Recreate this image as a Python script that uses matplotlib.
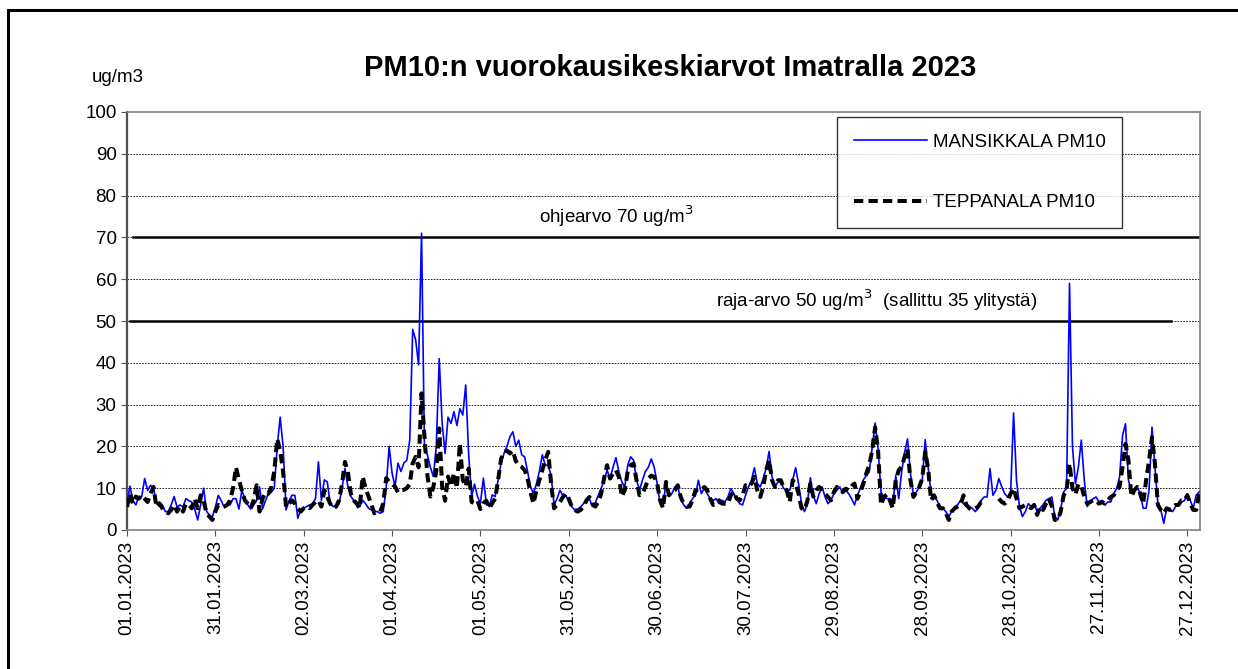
import numpy as np
import pandas as pd
import matplotlib
matplotlib.use('Agg')
import matplotlib.pyplot as plt
from matplotlib.patches import Rectangle

plt.rcParams['font.family'] = ['Liberation Sans', 'DejaVu Sans']

# daily means 2023, ug/m3
days = pd.date_range('2023-01-01', periods=365, freq='D')

mansikkala = [
    6.3, 10.5, 7, 6, 8, 8, 12.3, 9.5, 10.7, 10,
    6.3, 6.7, 6, 4.4, 4.4, 6, 8, 5.5, 6, 5.5,
    7.5, 7, 6.7, 5, 2.4, 6, 10, 4.5, 3.5, 3.2,
    5.5, 8.3, 7, 5.5, 6, 6, 7.5, 7.5, 5, 9.5,
    7.5, 6, 5, 6, 7, 10.3, 5, 7, 8.7, 9,
    10, 20, 27, 20, 4.8, 7, 8.3, 8.3, 2.8, 5,
    5.2, 5.6, 6, 6.3, 7.5, 16.3, 7.1, 12, 11.5, 6.3,
    5.6, 5.6, 6.3, 10, 14.7, 10.3, 8, 7.1, 6.3, 5.6,
    7.1, 6.3, 5.2, 4.8, 4.4, 4.4, 4, 4.4, 10.3, 20,
    13.6, 10.4, 16, 14, 16, 16.7, 21.5, 48, 45.5, 39.5,
    71, 19, 18, 15, 12.8, 20, 41, 25.5, 18.3, 27,
    25.5, 28.3, 25, 29, 27.5, 34.7, 18, 8, 11, 8,
    6.4, 12.4, 6.4, 5.6, 8.4, 8, 12, 16, 18.3, 20,
    22.3, 23.5, 20, 21.5, 18, 17.5, 14, 10.3, 8.8, 11,
    14, 18, 15.5, 15.5, 13, 6, 7.5, 9.5, 8.3, 8.3,
    6.7, 5.6, 4.8, 5, 5.5, 6.3, 7.1, 7.5, 5.6, 6.5,
    8.3, 10, 11.9, 14.3, 12.3, 15, 17.3, 14, 11.5, 10.3,
    15.5, 17.5, 16.7, 11.9, 9.5, 11.9, 14, 15, 17, 15,
    11.1, 6.3, 5.6, 11.5, 8.7, 8.7, 10.3, 10.3, 7.5, 6,
    5.2, 6.3, 7.5, 8.3, 11.9, 8.7, 10, 8.7, 7.5, 7.1,
    7.5, 6.3, 7.1, 6.7, 7.9, 9.9, 8.7, 7.5, 6.3, 6,
    8.3, 10.3, 11.9, 14.9, 11.1, 10.3, 12.3, 14.7, 18.8, 12.7,
    10.3, 11.5, 11.5, 9.9, 9.5, 9.5, 11.9, 14.9, 11.1, 6.3,
    4.4, 6.3, 12.5, 8.3, 6.3, 8.7, 10.3, 7.9, 6.3, 7.1,
    8.7, 9.5, 10.3, 8.7, 9.5, 8.7, 7.5, 6, 8.3, 10,
    12, 13, 13.9, 19.8, 25.6, 19.5, 9, 7.9, 7.5, 7.5,
    6, 13, 7.5, 13.9, 18.5, 21.8, 13.5, 8.3, 9.1, 10.3,
    11.9, 21.6, 15, 8.7, 7.9, 7.1, 5.6, 5.2, 4.4, 3.2,
    4.4, 5.6, 6, 7.1, 6.3, 5.6, 5.6, 5.2, 4.4, 5.2,
    7.1, 7.9, 7.9, 14.7, 8.3, 9.5, 12.3, 10.3, 8.7, 7.9,
    8.7, 28, 11.9, 5.6, 3.2, 4.4, 6.3, 5.6, 6.3, 4.4,
    5.2, 6, 7.1, 7.5, 7.9, 3.2, 2.4, 4.8, 9.1, 9.9,
    59, 20, 11, 15, 21.5, 12, 5.6, 6.7, 7.5, 7.9,
    6.7, 7.1, 6, 6.7, 6.7, 8.7, 9.9, 12.7, 22.6, 25.4,
    11.9, 9.5, 9.5, 10.3, 8.7, 5.2, 5.2, 9.5, 24.6, 15,
    6.3, 4.8, 1.6, 5.2, 4.8, 4.4, 5.6, 6.3, 6.7, 7,
    8.7, 7.1, 5.2, 8.3, 9.1,
]

teppanala = [
    5.5, 8.7, 6.3, 8, 7.5, 8.3, 7.5, 6.7, 8.7, 10.3,
    5.5, 6.3, 5.2, 4.4, 4, 4.8, 6, 4.4, 5.6, 4.4,
    6.3, 6, 5.2, 7.5, 5.2, 8.3, 7.1, 4, 3.2, 2.4,
    4.4, 6, 5.6, 5.6, 6, 7.1, 10, 15, 12, 9.5,
    7.1, 6.3, 5.2, 7.1, 10.7, 4.4, 7.5, 9, 8.7, 10.3,
    14, 21.8, 19, 14, 5.5, 6.3, 7.1, 6.3, 5.2, 4.4,
    5.2, 5.6, 5.2, 6, 6.7, 7.1, 5.6, 9.5, 7.9, 6.3,
    5.2, 5.6, 7.1, 11, 16.3, 13.9, 8.7, 7.1, 6.3, 5.2,
    12.8, 10, 8, 6, 4, 4.4, 4.4, 6.3, 12.4, 11.5,
    11, 10.4, 9, 9.5, 9.6, 10, 11, 16, 17.5, 15,
    32.7, 22.3, 13, 8, 10.3, 14, 24.3, 10.3, 7, 12.8,
    10.4, 13.6, 10, 20.7, 12, 10.4, 14.7, 6.7, 6.4, 7,
    5, 6.4, 7, 5.2, 6.4, 7.5, 12, 17, 18.7, 19,
    18.3, 19, 16.5, 15.5, 15.1, 14.3, 12.3, 9, 6.3, 9.5,
    11.9, 14.3, 16.7, 18.7, 11, 5.2, 6, 6.7, 7.9, 8.7,
    7.5, 5.6, 4.8, 4.4, 4.8, 5.6, 7.1, 7.9, 6.3, 5.6,
    6.7, 8.7, 12.5, 15.5, 12.3, 13.5, 14.3, 12.7, 8, 9.5,
    14, 15.5, 15.9, 11.9, 8.3, 8.7, 10.3, 12.3, 13, 12.7,
    11.1, 7.1, 5.2, 11.5, 8.3, 9.1, 9.5, 10.7, 7.9, 6.3,
    5.6, 5.6, 7.1, 9.5, 9.5, 9.5, 10.3, 9.5, 7.5, 6,
    6.3, 7.1, 6.3, 6.3, 6.3, 8.3, 9.1, 7.5, 7.1, 8.3,
    10.7, 10.3, 11.1, 12.7, 9.5, 7.9, 10.3, 14.3, 16.7, 11.9,
    10.3, 11.9, 11.9, 10, 9.5, 6.7, 11.9, 11.1, 8.7, 5.2,
    4.8, 7, 11.1, 8, 9.5, 10.3, 9.5, 8.7, 7.9, 7.1,
    9.1, 10.3, 9.5, 9.1, 9.9, 9.5, 10.5, 11.1, 7.5, 9.1,
    11.1, 13.5, 15.5, 19, 24.6, 19, 6, 7.9, 8.5, 7.1,
    5.2, 11.9, 14.3, 15.1, 17.5, 19.4, 11.9, 7.9, 9.1, 10.3,
    12.3, 18.7, 14.7, 7.1, 8.3, 6.7, 5.2, 5.2, 4, 2.4,
    4.4, 5.2, 5.6, 6, 8.3, 6, 5.2, 4.8, 5.2, 5.6,
    6.7, 6.7, np.nan, np.nan, np.nan, np.nan, 7.5, 6.7, 6.3, 7.1,
    8.7, 10, 7.5, 5.2, 5.6, 6, 5.6, 5.2, 6, 3.6,
    5.6, 4.8, 6.3, 7.5, 5.6, 2.4, 2.4, 4.4, 8.3, 9.5,
    15.9, 10, 8.5, 11, 10.5, 8, 6.3, 6.7, 7.1, 7.1,
    6.3, 6.7, 6.3, 7.1, 7.9, 8.3, 9.5, 10.3, 15.1, 20.6,
    16.7, 8, 9.5, 10.3, 8.7, 6.3, 11.9, 16.7, 22.2, 15.9,
    6, 4.8, 4, 5.2, 4.8, 5.2, 6, 6, 7.1, 7.1,
    8.3, 6.3, 4.8, 4.8, 8.7,
]

ohjearvo = 70
raja_arvo = 50

fig = plt.figure(figsize=(12.38, 6.69), dpi=100, facecolor='white')
ax = fig.add_axes([127/1238, 1-530/669, (1200-127)/1238, (530-112)/669])

# outer frame of the picture (top and left edges visible)
fig.patches.append(Rectangle((8/1238, -0.1), 1.2, 1.1-10/669, transform=fig.transFigure,
                             fill=False, edgecolor='black', linewidth=2.2))

x = np.arange(len(days))
ax.plot(x, mansikkala, color='#0000ff', lw=1.2, label='MANSIKKALA PM10', zorder=3)
ax.plot(x, teppanala, color='black', lw=2.9, dashes=(2.3, 1.3), label='TEPPANALA PM10', zorder=4)

ax.plot([2, 364.3], [ohjearvo, ohjearvo], color='black', lw=1.8, zorder=2)
ax.plot([1, 354.5], [raja_arvo, raja_arvo], color='black', lw=1.8, zorder=2)
ax.text(166, 72, 'ohjearvo 70 ug/m$^3$', ha='center', va='bottom', fontsize=13.5)
ax.text(200, 52, 'raja-arvo 50 ug/m$^3$  (sallittu 35 ylitystä)', ha='left', va='bottom', fontsize=13.5)

ax.set_xlim(0, 364.3)
ax.set_ylim(0, 100)
ax.set_yticks(range(0, 101, 10))
ax.set_xticks(x[::30])
ax.set_xticklabels([d.strftime('%d.%m.%Y') for d in days[::30]], rotation=90)
ax.tick_params(axis='both', labelsize=13.5, length=4, color='#555555', direction='out')
for y in range(10, 100, 10):
    ax.axhline(y, color='black', lw=0.6, ls=(0, (2, 1.5)), zorder=1)
for s in ax.spines.values():
    s.set_color('#808080')
    s.set_linewidth(1.2)
ax.spines['left'].set_color('#505050')
ax.spines['left'].set_linewidth(1.6)

fig.text(670/1238, 1-68/669, 'PM10:n vuorokausikeskiarvot Imatralla 2023', ha='center', va='center',
         fontsize=21, fontweight='bold')
fig.text(118/1238, 1-78/669, 'ug/m3', ha='center', va='center', fontsize=13.5)

leg = ax.legend(loc='upper left', bbox_to_anchor=(837/1238, 1-117/669), bbox_transform=fig.transFigure,
                fontsize=13.5, frameon=True, fancybox=False, handlelength=3.9, handletextpad=0.3,
                labelspacing=2.3, borderpad=0.9, borderaxespad=0)
leg.get_frame().set_edgecolor('black')
leg.get_frame().set_linewidth(1.0)

fig.savefig('out.png', dpi=100)
